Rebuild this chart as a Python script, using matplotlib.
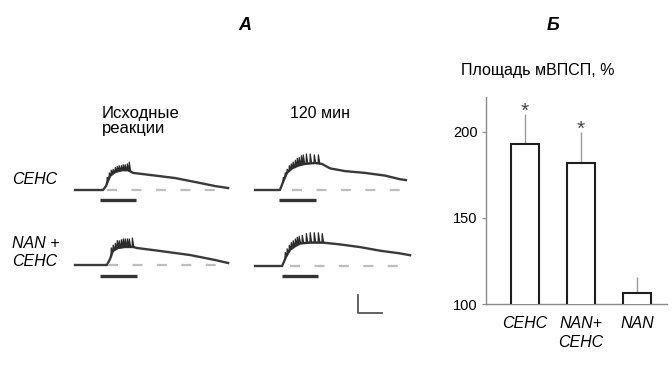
from matplotlib import pyplot as plt
import numpy as np

plt.rcParams['font.family'] = ['Liberation Sans', 'DejaVu Sans']

W, H = 672, 373

# ---------------- Panel A: traces (time, s ; potential, mV) ----------------
traces = {
    "base_sens": (
        [0, 1.17, 1.29, 1.46, 1.67, 1.96, 2.21, 2.42, 3.13, 4.17, 5.21, 5.83, 6.38],
        [0, 0, 0.44, 1.56, 2.0, 2.2, 2.2, 1.9, 1.67, 1.33, 0.78, 0.44, 0.22],
    ),
    "base_nan": (
        [0, 1.33, 1.46, 1.58, 1.79, 2.08, 2.42, 2.58, 3.54, 4.79, 5.83, 6.38],
        [0, 0, 0.67, 1.56, 1.89, 2.0, 2.0, 1.89, 1.56, 1.11, 0.56, 0.22],
    ),
    "t120_sens": (
        [0, 1.04, 1.17, 1.33, 1.54, 1.79, 2.08, 2.5, 2.79, 3.13, 3.75, 4.58, 5.42, 6.04, 6.29],
        [0, 0, 0.9, 1.9, 2.4, 2.7, 2.9, 3.0, 2.9, 2.4, 2.1, 1.9, 1.6, 1.2, 1.1],
    ),
    "t120_nan": (
        [0, 1.13, 1.29, 1.46, 1.67, 1.88, 2.29, 2.83, 3.54, 4.38, 5.21, 6.04, 6.46],
        [0, 0, 1.0, 1.8, 2.2, 2.5, 2.6, 2.6, 2.4, 2.1, 1.7, 1.4, 1.2],
    ),
}

# spike times and peak potentials riding on each trace
spikes = {
    "base_sens": (
        [1.33, 1.42, 1.5, 1.58, 1.67, 1.75, 1.83, 1.92, 2.0, 2.08, 2.17, 2.25],
        [1.4, 1.9, 2.2, 2.3, 2.5, 2.6, 2.7, 2.7, 2.8, 2.8, 2.9, 3.1],
    ),
    "base_nan": (
        [1.5, 1.58, 1.67, 1.75, 1.83, 1.92, 2.0, 2.08, 2.17, 2.25, 2.38],
        [1.9, 2.2, 2.4, 2.7, 2.7, 2.8, 2.9, 2.9, 2.9, 2.9, 3.0],
    ),
    "t120_sens": (
        [1.17, 1.25, 1.33, 1.42, 1.5, 1.58, 1.67, 1.75, 1.83, 1.92, 2.0, 2.13,
         2.29, 2.46, 2.63],
        [1.4, 1.9, 2.3, 2.7, 2.9, 3.1, 3.3, 3.5, 3.6, 3.8, 3.9, 4.0, 4.0, 3.9, 3.9],
    ),
    "t120_nan": (
        [1.25, 1.33, 1.42, 1.5, 1.58, 1.67, 1.75, 1.83, 1.96, 2.13, 2.29, 2.46,
         2.63, 2.79],
        [1.5, 1.9, 2.3, 2.6, 2.8, 3.0, 3.2, 3.3, 3.4, 3.6, 3.7, 3.7, 3.7, 3.6],
    ),
}

# resting level reference (dashed) and stimulation period (bar)
dashed = {
    "base_sens": (1.33, 6.13),
    "base_nan": (1.38, 6.25),
    "t120_sens": (1.54, 6.25),
    "t120_nan": (1.46, 6.25),
}
stim = {
    "base_sens": (1.04, 2.54, -1.1),
    "base_nan": (1.04, 2.58, -1.2),
    "t120_sens": (1.0, 2.54, -1.1),
    "t120_nan": (1.13, 2.63, -1.1),
}

# scale bar: 1 s, 2 mV
scale_t, scale_v = 1.0, 2.0

# ---------------- Panel B: bars ----------------
categories = ["СЕНС", "NAN+\nСЕНС", "NAN"]
area = [193, 182, 106.5]
area_err = [17, 18, 9]
significant = [True, True, False]


def px_axes(fig, left, top, w, h):
    return fig.add_axes([left / W, 1 - (top + h) / H, w / W, h / H])


fig = plt.figure(figsize=(W / 100, H / 100), dpi=100)

# trace axes: (-0.5..7 s) x (-2..4.5 mV), 24 px per s, 9 px per mV
positions = {
    "base_sens": (63, 149.5),
    "base_nan": (63, 224.5),
    "t120_sens": (243, 149.5),
    "t120_nan": (243, 225.5),
}
for key, (left, top) in positions.items():
    ax = px_axes(fig, left, top, 180, 58.5)
    ax.set_xlim(-0.5, 7)
    ax.set_ylim(-2, 4.5)
    ax.axis("off")
    t, v = traces[key]
    ax.plot(t, v, color="#3a3a3a", lw=1.7, solid_joinstyle="round")
    # sawtooth spikes: fast rise to peak, decay back onto the trace
    st, sv = spikes[key]
    base = np.interp(st, t, v)
    zx, zy = [], []
    for i in range(len(st)):
        zx += [st[i], st[i] + 0.01, st[i] + 0.07]
        zy += [base[i], sv[i], np.interp(st[i] + 0.07, t, v)]
    ax.plot(zx, zy, color="#2a2a2a", lw=0.9)
    d0, d1 = dashed[key]
    ax.plot([d0, d1], [0, 0], color="#bdbdbd", lw=1.6, dashes=(4.5, 6.5))
    s0, s1, sy = stim[key]
    ax.plot([s0, s1], [sy, sy], color="#333333", lw=2.4, solid_capstyle="butt")
    if key == "t120_nan":
        ax.plot([4.29, 4.29, 4.29 + scale_t], [-3.2, -3.2 - scale_v, -3.2 - scale_v],
                color="#555555", lw=1.3, clip_on=False)

fig.text(245 / W, 1 - 26 / H, "А", fontsize=13, fontweight="bold", style="italic",
         ha="center", va="center")
fig.text(553 / W, 1 - 26 / H, "Б", fontsize=13, fontweight="bold", style="italic",
         ha="center", va="center")
fig.text(102 / W, 1 - 121 / H, "Исходные\nреакции", fontsize=12, ha="left",
         va="center", linespacing=0.95)
fig.text(290 / W, 1 - 113 / H, "120 мин", fontsize=11.5, ha="left", va="center")
fig.text(12 / W, 1 - 180 / H, "СЕНС", fontsize=11.5, style="italic", ha="left",
         va="center")
fig.text(12 / W, 1 - 252 / H, "NAN +\nСЕНС", fontsize=11.5, style="italic",
         ha="left", va="center", linespacing=1.25)

# bar chart
axb = px_axes(fig, 486, 97, 181, 207)
x = np.arange(len(categories))
axb.bar(x, area, width=0.5, bottom=0, color="white", edgecolor="#1e1e1e", lw=1.5,
        zorder=3)
axb.errorbar(x, area, yerr=[np.zeros(len(area)), area_err], fmt="none",
             ecolor="#9a9a9a", elinewidth=1.0, capsize=0, zorder=2)
for xi, a, e, s in zip(x, area, area_err, significant):
    if s:
        axb.annotate("*", (xi, a + e), xytext=(0, -5), textcoords="offset points",
                     ha="center", va="bottom", fontsize=15, color="#444444")
axb.set_xlim(-0.7, 2.54)
axb.set_ylim(100, 220)
axb.set_yticks([100, 150, 200])
axb.set_xticks(x)
axb.set_xticklabels(categories, style="italic", fontsize=11.5, linespacing=1.3)
for sp in ["top", "right"]:
    axb.spines[sp].set_visible(False)
for sp in ["left", "bottom"]:
    axb.spines[sp].set_color("#8a8a8a")
    axb.spines[sp].set_linewidth(1.0)
axb.tick_params(axis="y", length=3, color="#8a8a8a", labelsize=10.5, pad=3)
axb.tick_params(axis="x", length=0, pad=9)
fig.text(461 / W, 1 - 71 / H, "Площадь мВПСП, %", fontsize=11.5, ha="left",
         va="center")

fig.savefig("out.png", dpi=100)
